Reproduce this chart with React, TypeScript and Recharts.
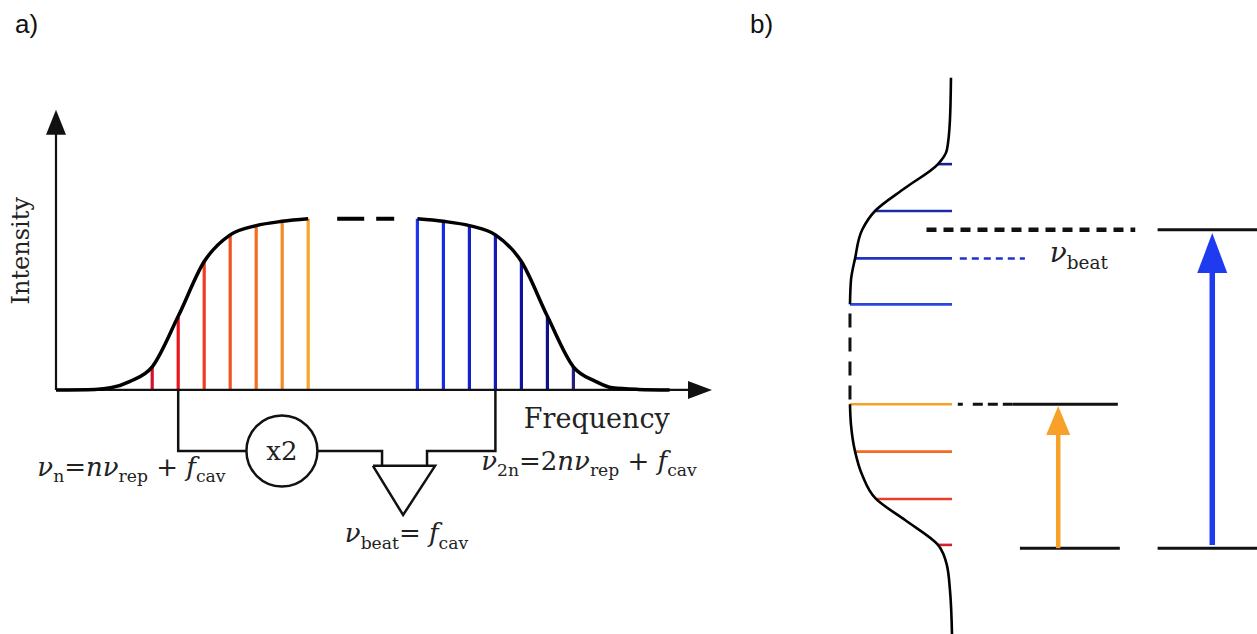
import React from 'react';
import { ComposedChart, Line, XAxis, YAxis, ReferenceLine, ReferenceDot } from 'recharts';

// ---------- panel a: frequency comb (frequency in comb spacings, intensity normalised) ----------
const redCombFreq = [3.7, 4.7, 5.7, 6.7, 7.7, 8.7, 9.7];
const redCombInt = [0.135, 0.43, 0.75, 0.906, 0.96, 0.985, 1.0];
const redCombColors = ['#d0142c', '#e8161c', '#f03c20', '#f25422', '#f46e22', '#f68a22', '#f8a42a'];

const blueCombFreq = [13.9, 14.9, 15.9, 16.9, 17.9, 18.9, 19.9];
const blueCombInt = [1.0, 0.985, 0.96, 0.906, 0.75, 0.43, 0.135];
const blueCombColors = ['#1f33f2', '#1a2ae0', '#1420cc', '#1418b4', '#10129c', '#121088', '#22207e'];

const envLeftFreq = [0, 1.5, 2.1, 2.85, 3.7, 4.7, 5.7, 6.7, 7.7, 8.7, 9.7];
const envLeftInt = [0, 0.003, 0.012, 0.05, 0.135, 0.43, 0.75, 0.906, 0.96, 0.985, 1.0];
const envRightFreq = [13.9, 14.9, 15.9, 16.9, 17.9, 18.9, 19.9, 20.75, 21.4, 22.4, 23.6];
const envRightInt = [1.0, 0.985, 0.96, 0.906, 0.75, 0.43, 0.135, 0.05, 0.012, 0.003, 0];

// beat-note wiring below the axis
const bracketLeftFreq = [4.7, 4.7, 7.31];
const bracketLeftInt = [0, -0.357, -0.357];
const bracketMidFreq = [10.04, 12.54, 12.54];
const bracketMidInt = [-0.357, -0.357, -0.444];
const bracketRightFreq = [16.9, 16.9, 14.27, 14.27];
const bracketRightInt = [0, -0.357, -0.357, -0.444];
const detectorFreq = [12.19, 14.58, 13.35, 12.19];
const detectorInt = [-0.444, -0.444, -0.731, -0.444];
const doublerFreq = 8.69;
const doublerInt = -0.357;

// ---------- panel b: rotated spectrum + levels ----------
const bEnvTopFreq = [5.13, 5.65, 6.11, 6.72, 7.12, 7.61, 8.12, 8.42, 9.06, 9.96];
const bEnvTopInt = [1.0, 0.99, 0.95, 0.88, 0.755, 0.46, 0.137, 0.05, 0.02, 0.01];
const bEnvBotFreq = [-1.9, -0.96, -0.43, 0, 0.53, 0.98, 1.49, 1.99, 2.56, 3.0];
const bEnvBotInt = [0, 0.02, 0.05, 0.137, 0.46, 0.745, 0.88, 0.95, 0.99, 1.0];

const bBlueFreq = [8.12, 7.12, 6.11, 5.13];
const bBlueInt = [0.137, 0.755, 0.95, 1.0];
const bBlueColors = ['#1a1f8f', '#1d2aa6', '#2233c4', '#2a45e0'];
const bOrangeFreq = [3.0, 1.99, 0.98, 0.0];
const bOrangeInt = [1.0, 0.95, 0.745, 0.137];
const bOrangeColors = ['#f7a12a', '#f26b25', '#e9402a', '#d9202a'];

// level diagram: frequency of each level and its horizontal extent (diagram units 0-10)
const levelBeat = 6.72;
const levelN = 3.0;
const levelGround = -0.07;
const levelLeftSpan = [5.09, 7.2];
const levelGroundLeftSpan = [5.23, 7.24];
const levelRightSpan = [8.0, 10];
const beatDashSpan = [3.35, 7.55];
const combDashSpan = [4.02, 5.33];
const nDashSpan = [3.98, 5.09];
const orangeArrowX = 6.0;
const blueArrowX = 9.1;

const zip = (fs: number[], is: number[]) => fs.map((f, k) => ({ f, i: is[k] }));
const level = (span: number[], f: number) => span.map((x) => ({ x, f }));

type Piece = { t: string; it?: boolean; sub?: boolean };
const formulaN: Piece[] = [
  { t: 'ν', it: true }, { t: 'n', sub: true }, { t: '=' }, { t: 'nν', it: true },
  { t: 'rep', sub: true }, { t: ' + ' }, { t: 'f', it: true }, { t: 'cav', sub: true },
];
const formula2N: Piece[] = [
  { t: 'ν', it: true }, { t: '2n', sub: true }, { t: '=2' }, { t: 'nν', it: true },
  { t: 'rep', sub: true }, { t: ' + ' }, { t: 'f', it: true }, { t: 'cav', sub: true },
];
const formulaBeat: Piece[] = [
  { t: 'ν', it: true }, { t: 'beat', sub: true }, { t: '= ' }, { t: 'f', it: true }, { t: 'cav', sub: true },
];
const beatLabel: Piece[] = [{ t: 'ν', it: true }, { t: 'beat', sub: true }];

const serif = '"DejaVu Serif", serif';

const textShape = (pieces: Piece[], size: number, anchor: string, rotate = 0) => (p: any) => {
  const { cx, cy } = p;
  let inSub = false;
  return (
    <text
      x={cx}
      y={cy}
      fontFamily={serif}
      fontSize={size}
      fill="#222"
      textAnchor={anchor}
      style={{ whiteSpace: 'pre' }}
      transform={rotate ? `rotate(${rotate} ${cx} ${cy})` : undefined}
    >
      {pieces.map((pc, k) => {
        const sub = !!pc.sub;
        const dy = sub && !inSub ? size * 0.25 : !sub && inSub ? -size * 0.25 : 0;
        inSub = sub;
        return (
          <tspan key={k} dy={dy} fontSize={sub ? size * 0.66 : size} fontStyle={pc.it ? 'italic' : 'normal'}>
            {pc.t}
          </tspan>
        );
      })}
    </text>
  );
};

const arrowShape = (color: string, width: number, headLen: number, headW: number) => (p: any) => {
  const { x1, y1, x2, y2 } = p;
  const len = Math.hypot(x2 - x1, y2 - y1) || 1;
  const ux = (x2 - x1) / len;
  const uy = (y2 - y1) / len;
  const bx = x2 - ux * headLen;
  const by = y2 - uy * headLen;
  const nx = (-uy * headW) / 2;
  const ny = (ux * headW) / 2;
  return (
    <g>
      <line x1={x1} y1={y1} x2={bx + ux} y2={by + uy} stroke={color} strokeWidth={width} />
      <polygon points={`${x2},${y2} ${bx + nx},${by + ny} ${bx - nx},${by - ny}`} fill={color} />
    </g>
  );
};

const doublerShape = (p: any) => (
  <g>
    <circle cx={p.cx} cy={p.cy} r={35.5} fill="#fff" stroke="#111" strokeWidth={2.5} />
    <text x={p.cx} y={p.cy + 9} textAnchor="middle" fontFamily={serif} fontSize={26} fill="#222">
      x2
    </text>
  </g>
);

const wire = { stroke: '#111', strokeWidth: 2.5, dot: false, activeDot: false, type: 'linear' as const, isAnimationActive: false, strokeLinejoin: 'miter' as const };
const lvLine = { xAxisId: 'lv', dataKey: 'f', type: 'linear' as const, dot: false, activeDot: false, isAnimationActive: false };

const panelLabel = (left: number): React.CSSProperties => ({
  position: 'absolute',
  left,
  top: 11,
  fontFamily: '"Liberation Sans", Arial, sans-serif',
  fontSize: 26,
  lineHeight: '26px',
  color: '#111',
});

const PanelA = () => (
  <ComposedChart width={740} height={634} margin={{ top: 99, right: 8, bottom: 73, left: 4 }}>
    <XAxis dataKey="f" type="number" domain={[-2, 26]} allowDataOverflow hide />
    <YAxis type="number" domain={[-1, 1.7]} allowDataOverflow hide />

    {redCombFreq.map((f, k) => (
      <ReferenceLine key={`r${k}`} segment={[{ x: f, y: 0 }, { x: f, y: redCombInt[k] }]} stroke={redCombColors[k]} strokeWidth={3.2} />
    ))}
    {blueCombFreq.map((f, k) => (
      <ReferenceLine key={`b${k}`} segment={[{ x: f, y: 0 }, { x: f, y: blueCombInt[k] }]} stroke={blueCombColors[k]} strokeWidth={3.2} />
    ))}

    <ReferenceLine segment={[{ x: 0, y: 0 }, { x: 25.23, y: 0 }]} shape={arrowShape('#111', 2.2, 24, 18)} />
    <ReferenceLine segment={[{ x: 0, y: 0 }, { x: 0, y: 1.637 }]} shape={arrowShape('#111', 2.2, 25, 20)} />

    <Line data={zip(envLeftFreq, envLeftInt)} dataKey="i" type="monotone" stroke="#000" strokeWidth={3.5} dot={false} activeDot={false} isAnimationActive={false} />
    <Line data={zip(envRightFreq, envRightInt)} dataKey="i" type="monotone" stroke="#000" strokeWidth={3.5} dot={false} activeDot={false} isAnimationActive={false} />
    <ReferenceLine segment={[{ x: 9.7, y: 1 }, { x: 13.9, y: 1 }]} stroke="#000" strokeWidth={4} strokeDasharray="0 29 27 12 18 30" />

    <Line data={zip(bracketLeftFreq, bracketLeftInt)} dataKey="i" {...wire} />
    <Line data={zip(bracketMidFreq, bracketMidInt)} dataKey="i" {...wire} />
    <Line data={zip(bracketRightFreq, bracketRightInt)} dataKey="i" {...wire} />
    <Line data={zip(detectorFreq, detectorInt)} dataKey="i" {...wire} />
    <ReferenceDot x={doublerFreq} y={doublerInt} r={35} shape={doublerShape} />

    <ReferenceDot x={-1.04} y={0.813} r={0} shape={textShape([{ t: 'Intensity' }], 24, 'middle', -90)} />
    <ReferenceDot x={20.8} y={-0.222} r={0} shape={textShape([{ t: 'Frequency' }], 27, 'middle')} />
    <ReferenceDot x={2.9} y={-0.503} r={0} shape={textShape(formulaN, 26, 'middle')} />
    <ReferenceDot x={20.5} y={-0.468} r={0} shape={textShape(formula2N, 26, 'middle')} />
    <ReferenceDot x={13.48} y={-0.889} r={0} shape={textShape(formulaBeat, 26, 'middle')} />
  </ComposedChart>
);

const PanelB = () => (
  <ComposedChart width={497} height={634} margin={{ top: 0, right: 0, bottom: 0, left: 0 }}>
    <XAxis xAxisId="int" dataKey="i" type="number" domain={[-2.99, 1.882]} reversed allowDataOverflow hide />
    <XAxis xAxisId="lv" dataKey="x" type="number" domain={[0, 10]} allowDataOverflow hide />
    <YAxis type="number" domain={[-1.9, 11.62]} allowDataOverflow hide />

    {bBlueFreq.map((f, k) => (
      <ReferenceLine key={`bb${k}`} xAxisId="int" segment={[{ x: bBlueInt[k], y: f }, { x: 0, y: f }]} stroke={bBlueColors[k]} strokeWidth={2.6} />
    ))}
    {bOrangeFreq.map((f, k) => (
      <ReferenceLine key={`bo${k}`} xAxisId="int" segment={[{ x: bOrangeInt[k], y: f }, { x: 0, y: f }]} stroke={bOrangeColors[k]} strokeWidth={2.6} />
    ))}

    <Line xAxisId="int" data={zip(bEnvTopFreq, bEnvTopInt)} dataKey="f" type="monotoneY" stroke="#000" strokeWidth={2.6} dot={false} activeDot={false} isAnimationActive={false} />
    <Line xAxisId="int" data={zip(bEnvBotFreq, bEnvBotInt)} dataKey="f" type="monotoneY" stroke="#000" strokeWidth={2.6} dot={false} activeDot={false} isAnimationActive={false} />
    <ReferenceLine xAxisId="int" segment={[{ x: 1.0, y: 3.1 }, { x: 1.0, y: 5.0 }]} stroke="#111" strokeWidth={3} strokeDasharray="14 10" />

    {/* levels */}
    <Line {...lvLine} data={level(beatDashSpan, levelBeat)} stroke="#111" strokeWidth={4.5} strokeDasharray="10 7" />
    <Line {...lvLine} data={level(combDashSpan, bBlueFreq[2])} stroke="#2233cc" strokeWidth={2.5} strokeDasharray="7 5" />
    <Line {...lvLine} data={level(nDashSpan, levelN)} stroke="#111" strokeWidth={3} strokeDasharray="5 10 10 5 10 5 10 5" />
    <Line {...lvLine} data={level(levelLeftSpan, levelN)} stroke="#111" strokeWidth={3} />
    <Line {...lvLine} data={level(levelGroundLeftSpan, levelGround)} stroke="#111" strokeWidth={3} />
    <Line {...lvLine} data={level(levelRightSpan, levelBeat)} stroke="#111" strokeWidth={3} />
    <Line {...lvLine} data={level(levelRightSpan, levelGround)} stroke="#111" strokeWidth={3} />

    <ReferenceLine xAxisId="lv" segment={[{ x: orangeArrowX, y: levelGround }, { x: orangeArrowX, y: 2.96 }]} shape={arrowShape('#f7a12a', 4.5, 29, 24)} />
    <ReferenceLine xAxisId="lv" segment={[{ x: blueArrowX, y: 0.0 }, { x: blueArrowX, y: 6.65 }]} shape={arrowShape('#1f3bf0', 5.5, 40, 30)} />

    <ReferenceDot xAxisId="lv" x={5.83} y={6.03} r={0} shape={textShape(beatLabel, 28, 'start')} />
  </ComposedChart>
);

export default function App() {
  return (
    <div style={{ position: 'absolute', left: 0, top: 0, width: 1257, height: 634, background: '#fff', overflow: 'hidden' }}>
      <div style={panelLabel(15)}>a)</div>
      <div style={panelLabel(750)}>b)</div>
      <div style={{ position: 'absolute', left: 0, top: 0 }}>
        <PanelA />
      </div>
      <div style={{ position: 'absolute', left: 760, top: 0 }}>
        <PanelB />
      </div>
    </div>
  );
}
